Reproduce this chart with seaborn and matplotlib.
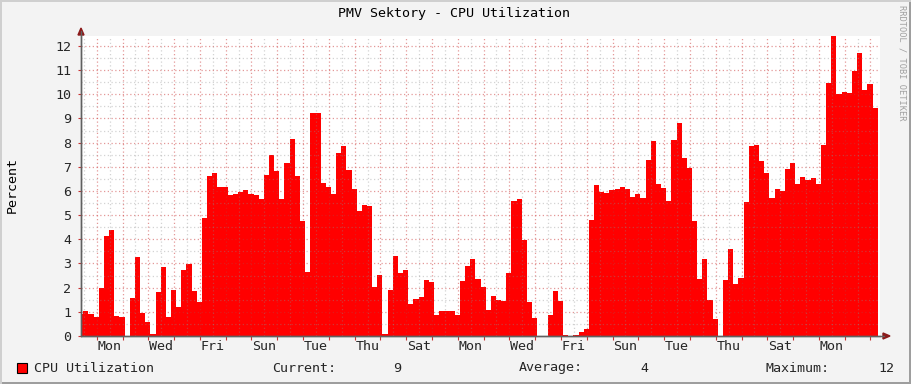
import numpy as np
import pandas as pd
import matplotlib
matplotlib.use("Agg")
import matplotlib.pyplot as plt
import seaborn as sns
from matplotlib.patches import Rectangle, Polygon
from matplotlib.lines import Line2D

# ---------------- data ----------------
cpu_values = [
    0.91, 1.04, 0.91, 0.79, 1.99, 4.14, 4.39, 0.83, 0.79, 0.00,
    1.57, 3.27, 0.95, 0.58, 0.08, 1.82, 2.86, 0.79, 1.90, 1.20,
    2.73, 2.98, 1.86, 1.41, 4.89, 6.63, 6.75, 6.17, 6.17, 5.84,
    5.88, 5.97, 6.05, 5.88, 5.84, 5.68, 6.67, 7.50, 6.84, 5.67,
    7.16, 8.15, 6.62, 4.76, 2.65, 9.23, 9.23, 6.33, 6.17, 5.88,
    7.57, 7.86, 6.87, 6.08, 5.17, 5.42, 5.38, 2.03, 2.52, 0.08,
    1.90, 3.31, 2.61, 2.73, 1.32, 1.53, 1.61, 2.32, 2.23, 0.87,
    1.03, 1.03, 1.03, 0.87, 2.28, 2.90, 3.19, 2.37, 2.03, 1.08,
    1.66, 1.49, 1.45, 2.61, 5.59, 5.67, 3.97, 1.41, 0.74, 0.00,
    0.00, 0.87, 1.86, 1.45, 0.04, 0.00, 0.04, 0.17, 0.29, 4.80,
    6.25, 5.96, 5.92, 6.04, 6.08, 6.17, 6.08, 5.75, 5.88, 5.71,
    7.28, 8.07, 6.29, 6.12, 5.59, 8.11, 8.81, 7.37, 6.95, 4.76,
    2.36, 3.19, 1.49, 0.70, 0.00, 2.32, 3.60, 2.15, 2.40, 5.54,
    7.86, 7.90, 7.24, 6.74, 5.71, 6.08, 6.00, 6.91, 7.16, 6.29,
    6.58, 6.46, 6.54, 6.29, 7.90, 10.47, 12.41, 10.01, 10.10, 10.06,
    10.97, 11.71, 10.18, 10.43, 9.43,
]
step_days = 0.2          # each sample covers 4.8 hours
start_day = -0.11        # start of first sample (days from left edge)
first_midnight = 0.61    # first day boundary (days from left edge)
x_end = 30.98
y_max = 12.41
day_labels = ["Mon", "Wed", "Fri", "Sun", "Tue", "Thu", "Sat", "Mon",
              "Wed", "Fri", "Sun", "Tue", "Thu", "Sat", "Mon"]
first_label_day = 1.11
y_ticks = list(range(0, 13))
title = "PMV Sektory - CPU Utilization"
series_name = "CPU Utilization"
stat_current = "9"
stat_average = "4"
stat_maximum = "12"

# ---------------- style ----------------
sns.set_theme(style="white")
plt.rcParams['font.family'] = ['DejaVu Sans Mono', 'DejaVu Sans']
FS = 9.6
W, H = 911, 384

def fx(px):
    return px / W

def fy(py):
    return 1 - py / H

fig = plt.figure(figsize=(W / 100, H / 100), dpi=100, facecolor='#F3F3F3')
ax = fig.add_axes([fx(81), 48 / H, (880 - 81) / W, (336 - 36) / H])
ax.set_facecolor('white')

n = len(cpu_values)
edges = start_day + step_days * np.arange(n + 1)
centers = (edges[:-1] + edges[1:]) / 2
df = pd.DataFrame({'t': centers, 'cpu': cpu_values})
sns.histplot(data=df, x='t', weights='cpu', binwidth=step_days,
             binrange=(float(edges[0]), float(edges[-1])), element='step',
             fill=True, color='#FF0000', alpha=1, linewidth=0, ax=ax,
             legend=False, zorder=2)

ax.set_xlim(0, x_end)
ax.set_ylim(0, y_max)
ax.set_xlabel('')
ax.set_ylabel('')

# grid (drawn over the area, semi transparent, dotted)
dots = (0, (1, 2))
for y in np.arange(0.5, y_max, 1.0):
    ax.axhline(y, color='#8c8c8c', alpha=0.38, lw=0.9, ls=dots, zorder=3)
for y in y_ticks[1:]:
    ax.axhline(y, color='#c83232', alpha=0.5, lw=0.9, ls=dots, zorder=3)
noons = first_midnight - 0.5 + np.arange(32)
noons = noons[(noons > 0) & (noons < x_end)]
midnights = first_midnight + np.arange(31)
midnights = midnights[midnights < x_end]
for x in noons:
    ax.axvline(x, color='#8c8c8c', alpha=0.38, lw=0.9, ls=dots, zorder=3)
for x in midnights:
    ax.axvline(x, color='#c83232', alpha=0.5, lw=0.9, ls=dots, zorder=3)

# ticks
ax.set_xticks(midnights)
ax.set_xticklabels([])
label_pos = first_label_day + 2 * np.arange(len(day_labels))
ax.set_xticks(label_pos, minor=True)
ax.set_xticklabels(day_labels, minor=True, fontsize=FS)
ax.tick_params(axis='x', which='major', length=3, width=0.8,
               color='#c83232', direction='out', bottom=True)
ax.tick_params(axis='x', which='minor', length=0, pad=3, bottom=True)
ax.set_yticks(y_ticks)
ax.set_yticklabels([str(v) for v in y_ticks], fontsize=FS)
ax.tick_params(axis='y', length=2, width=0.8, color='#c83232',
               direction='out', pad=5, left=True)

for s in ['top', 'right']:
    ax.spines[s].set_visible(False)
for s in ['left', 'bottom']:
    ax.spines[s].set_color('#606060')
    ax.spines[s].set_linewidth(1)
    ax.spines[s].set_zorder(4)

# axis extensions and arrows
fig.add_artist(Line2D([fx(81), fx(81)], [fy(336), fy(31)], color='#606060', lw=1))
fig.add_artist(Line2D([fx(81), fx(884)], [fy(336), fy(336)], color='#606060', lw=1))
fig.add_artist(Polygon([[fx(81), fy(28)], [fx(78), fy(35)], [fx(84), fy(35)]],
                       closed=True, color='#8b1a1a', transform=fig.transFigure))
fig.add_artist(Polygon([[fx(890), fy(336)], [fx(883), fy(333)], [fx(883), fy(339)]],
                       closed=True, color='#8b1a1a', transform=fig.transFigure))

# title / labels
fig.text(fx(454.5), fy(14), title, ha='center', va='center', fontsize=FS, color='black')
fig.text(fx(12), fy(185), 'Percent', ha='center', va='center', rotation=90,
         fontsize=FS, color='black')
fig.text(fx(902), fy(5), 'RRDTOOL / TOBI OETIKER', ha='center', va='top',
         rotation=270, fontsize=6.2, color='#a0a0a0')

# legend
fig.add_artist(Rectangle((fx(17), fy(373)), 10 / W, 10 / H, facecolor='#FF0000',
                         edgecolor='black', lw=0.8, transform=fig.transFigure))
ly = fy(368)
fig.text(fx(34), ly, series_name, ha='left', va='center', fontsize=FS)
fig.text(fx(272), ly, 'Current:', ha='left', va='center', fontsize=FS)
fig.text(fx(393), ly, stat_current, ha='left', va='center', fontsize=FS)
fig.text(fx(519), ly, 'Average:', ha='left', va='center', fontsize=FS)
fig.text(fx(640), ly, stat_average, ha='left', va='center', fontsize=FS)
fig.text(fx(765), ly, 'Maximum:', ha='left', va='center', fontsize=FS)
fig.text(fx(894), ly, stat_maximum, ha='right', va='center', fontsize=FS)

# 3D border
fig.add_artist(Rectangle((fx(909), 0), 2 / W, 1, facecolor='#9e9e9e', lw=0,
                         transform=fig.transFigure))
fig.add_artist(Rectangle((0, 0), 1, 2 / H, facecolor='#9e9e9e', lw=0,
                         transform=fig.transFigure))
fig.add_artist(Rectangle((0, 0), 2 / W, 1, facecolor='#cfcfcf', lw=0,
                         transform=fig.transFigure))
fig.add_artist(Rectangle((0, fy(2)), 1, 2 / H, facecolor='#cfcfcf', lw=0,
                         transform=fig.transFigure))

fig.savefig('out.png', dpi=100, facecolor=fig.get_facecolor())
